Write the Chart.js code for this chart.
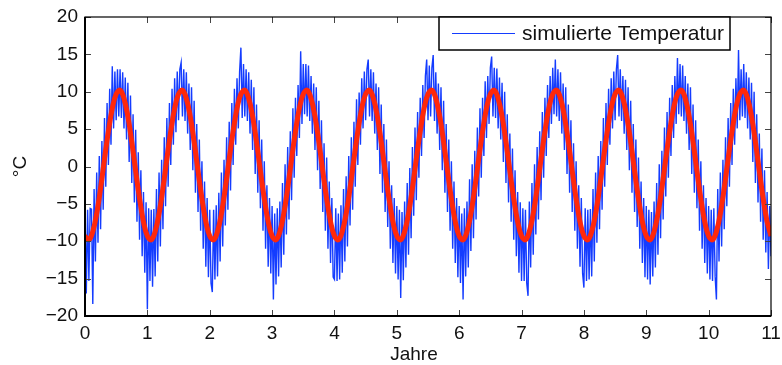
<!DOCTYPE html>
<html>
<head>
<meta charset="utf-8">
<script src="https://cdn.jsdelivr.net/npm/chart.js@4.4.1/dist/chart.umd.min.js"></script>
<style>
  html, body { margin: 0; padding: 0; background: #fff; }
  #wrap { width: 782px; height: 365px; }
</style>
</head>
<body>
<div id="wrap"><canvas id="myChart" width="782" height="365"></canvas></div>
<script>
// samples per year of each series
var simPerYear = 48;
var fitPerYear = 16;

// simulated temperature (blue), one row per year
var simTemp = [
  -5.8,-17.0,-5.8,-15.3,-5.6,-5.7,-18.4,-3.0,-12.7,-0.8,-10.2,1.4,-8.4,3.4,-5.8,6.5,-2.7,8.5,0.2,10.4,2.9,13.4,5.1,12.7,6.2,13.0,6.7,13.0,6.5,12.6,5.1,11.9,3.6,11.2,0.6,9.5,-2.2,7.0,-4.8,4.9,-7.4,1.9,-9.8,-0.5,-12.0,-3.4,-14.2,-4.8,
  -19.1,-5.6,-15.3,-5.8,-16.1,-5.7,-14.7,-3.0,-12.7,-0.8,-10.7,0.9,-8.4,3.9,-5.3,6.5,-2.7,8.5,0.2,10.4,2.9,11.8,4.6,12.7,6.2,13.0,13.9,6.7,13.0,6.1,12.6,4.4,11.1,2.2,10.6,-0.5,8.8,-3.5,5.7,-6.1,3.6,-8.6,0.7,-11.0,-2.0,-13.4,-4.2,-14.8,
  -5.8,-15.6,-16.8,-5.8,-15.1,-5.2,-14.7,-3.5,-12.7,-0.8,-10.7,0.9,-7.9,3.9,-5.8,6.0,-3.2,8.5,0.2,10.4,2.9,11.8,5.1,12.7,15.9,6.5,13.7,6.7,13.0,6.1,12.6,4.4,11.6,2.2,10.6,-1.0,8.3,-3.5,6.2,-5.6,3.6,-8.6,0.7,-11.0,-2.5,-13.4,-4.2,-14.3,
  -5.3,-17.8,-6.3,-15.8,-5.6,-14.7,-4.7,-13.5,-2.2,-11.8,0.3,-9.1,2.6,-7.1,4.7,-4.5,7.8,-1.5,9.2,1.4,10.9,3.8,15.4,5.7,13.7,7.0,13.7,6.7,13.5,6.1,12.1,4.4,11.1,2.2,10.6,-0.5,8.8,-3.0,6.2,-6.1,3.1,-8.6,1.2,-11.0,-2.0,-12.9,-4.2,-14.8,
  -15.1,-5.6,-15.3,-6.3,-15.1,-5.2,-14.2,-3.0,-12.7,-1.3,-10.7,1.4,-7.9,3.9,-5.8,6.0,-2.7,9.0,0.2,9.9,2.9,11.8,5.1,12.7,6.2,13.0,14.3,6.7,13.0,6.1,12.6,4.4,11.1,2.2,10.6,-1.0,8.3,-3.5,5.7,-6.1,3.6,-8.1,0.7,-11.0,-2.5,-12.9,-4.2,-14.3,
  -5.3,-15.1,-5.8,-17.6,-6.1,-15.2,-4.7,-13.5,-2.2,-11.8,-0.2,-9.6,2.6,-6.6,5.2,-4.5,7.3,-1.5,9.2,1.4,10.9,3.8,12.1,14.3,6.2,13.5,6.7,13.2,14.9,6.1,12.6,4.4,11.1,2.2,10.6,-0.5,8.8,-3.5,5.7,-6.1,3.6,-8.6,0.7,-11.0,-2.0,-12.9,-4.2,-14.8,
  -5.3,-15.6,-6.3,-17.8,-5.6,-14.7,-4.7,-13.5,-1.7,-11.3,0.3,-9.6,2.1,-7.1,5.2,-4.0,7.8,-1.5,9.2,1.4,11.4,3.8,12.1,5.7,13.2,14.7,6.7,13.2,6.5,13.1,5.1,11.9,3.6,11.2,0.6,10.0,-2.2,7.0,-4.8,4.4,-7.4,2.4,-9.8,-0.5,-12.0,-3.4,-14.2,-4.8,
  -15.3,-5.6,-15.3,-5.8,-15.6,-17.3,-4.7,-13.5,-2.2,-11.8,0.3,-9.1,2.6,-7.1,4.7,-4.5,7.3,-1.5,9.2,1.4,10.9,3.8,12.1,5.7,13.2,7.0,14.3,6.7,13.0,6.1,12.6,4.4,11.1,2.2,10.6,-1.0,8.3,-3.5,6.2,-6.1,3.1,-8.6,0.7,-11.0,-2.5,-13.4,-4.2,-14.3,
  -16.2,-5.6,-15.3,-5.8,-15.1,-5.7,-14.7,-3.0,-12.7,-0.8,-10.2,1.4,-8.4,3.4,-5.8,6.5,-2.7,8.5,0.2,10.4,2.9,11.8,5.1,12.7,6.2,13.0,14.9,6.7,13.0,6.1,12.1,4.4,11.6,2.2,10.6,-0.5,8.8,-3.5,5.7,-6.1,3.6,-8.1,1.2,-11.0,-2.0,-12.9,-4.2,-14.8,
  -5.3,-15.1,-5.8,-15.8,-6.1,-14.7,-4.7,-13.5,-2.2,-11.8,0.3,-9.6,2.1,-7.1,5.2,-4.0,7.3,-1.5,9.2,1.4,10.9,3.8,12.1,5.7,14.5,7.0,13.7,6.7,13.5,6.1,12.1,4.4,11.1,2.2,10.6,-1.0,8.3,-3.5,6.2,-5.6,3.6,-8.6,0.7,-11.0,-2.5,-12.9,-4.2,-14.3,
  -5.3,-15.1,-5.8,-15.3,-5.6,-14.7,-17.8,-3.0,-12.7,-0.8,-10.7,0.9,-8.4,3.9,-5.3,6.5,-2.7,8.5,0.2,10.4,2.9,11.8,5.1,15.6,6.2,13.0,6.7,13.7,6.5,12.6,5.1,11.9,3.6,11.2,0.6,10.0,-2.2,7.0,-4.8,4.4,-7.4,2.4,-9.8,-0.5,-11.5,-3.4,-13.7,-5.3,
  -12.0
];

// smooth seasonal curve (red), one row per year
var fitTemp = [
  -9.3,-9.8,-8.7,-6.3,-2.9,1.0,4.7,7.8,9.7,10.2,9.1,6.7,3.3,-0.6,-4.3,-7.4,
  -9.3,-9.8,-8.7,-6.3,-2.9,1.0,4.7,7.8,9.7,10.2,9.1,6.7,3.3,-0.6,-4.3,-7.4,
  -9.3,-9.8,-8.7,-6.3,-2.9,1.0,4.7,7.8,9.7,10.2,9.1,6.7,3.3,-0.6,-4.3,-7.4,
  -9.3,-9.8,-8.7,-6.3,-2.9,1.0,4.7,7.8,9.7,10.2,9.1,6.7,3.3,-0.6,-4.3,-7.4,
  -9.3,-9.8,-8.7,-6.3,-2.9,1.0,4.7,7.8,9.7,10.2,9.1,6.7,3.3,-0.6,-4.3,-7.4,
  -9.3,-9.8,-8.7,-6.3,-2.9,1.0,4.7,7.8,9.7,10.2,9.1,6.7,3.3,-0.6,-4.3,-7.4,
  -9.3,-9.8,-8.7,-6.3,-2.9,1.0,4.7,7.8,9.7,10.2,9.1,6.7,3.3,-0.6,-4.3,-7.4,
  -9.3,-9.8,-8.7,-6.3,-2.9,1.0,4.7,7.8,9.7,10.2,9.1,6.7,3.3,-0.6,-4.3,-7.4,
  -9.3,-9.8,-8.7,-6.3,-2.9,1.0,4.7,7.8,9.7,10.2,9.1,6.7,3.3,-0.6,-4.3,-7.4,
  -9.3,-9.8,-8.7,-6.3,-2.9,1.0,4.7,7.8,9.7,10.2,9.1,6.7,3.3,-0.6,-4.3,-7.4,
  -9.3,-9.8,-8.7,-6.3,-2.9,1.0,4.7,7.8,9.7,10.2,9.1,6.7,3.3,-0.6,-4.3,-7.4,
  -9.3
];

var xTicks = [0, 1, 2, 3, 4, 5, 6, 7, 8, 9, 10, 11];
var yTicks = [-20, -15, -10, -5, 0, 5, 10, 15, 20];

var blue = 'rgb(20,60,255)';
var red = 'rgb(255,40,10)';
var family = "'Liberation Sans', Arial, sans-serif";
var font = { family: family, size: 19 };

function minus(v) {
  return String(v).replace('-', '\u2212');
}

// box with inward ticks on all four sides, x label and the legend
var frame = {
  id: 'frame',
  afterDatasetsDraw: function(chart) {
    var ctx = chart.ctx, a = chart.chartArea;
    var x = chart.scales.x, y = chart.scales.y;
    ctx.save();
    ctx.strokeStyle = '#444';
    ctx.lineWidth = 1;
    ctx.beginPath();
    xTicks.forEach(function(t) {
      var px = Math.round(x.getPixelForValue(t)) + 0.5;
      ctx.moveTo(px, a.bottom); ctx.lineTo(px, a.bottom - 6);
      ctx.moveTo(px, a.top); ctx.lineTo(px, a.top + 6);
    });
    yTicks.forEach(function(t) {
      var py = Math.round(y.getPixelForValue(t)) + 0.5;
      ctx.moveTo(a.left, py); ctx.lineTo(a.left + 6, py);
      ctx.moveTo(a.right, py); ctx.lineTo(a.right - 6, py);
    });
    ctx.stroke();

    ctx.strokeStyle = '#000';
    ctx.lineWidth = 1.2;
    ctx.strokeRect(a.left, a.top, a.right - a.left, a.bottom - a.top);
    ctx.lineWidth = 2;
    ctx.beginPath();
    ctx.moveTo(a.left, a.top); ctx.lineTo(a.left, a.bottom); ctx.lineTo(a.right, a.bottom);
    ctx.stroke();

    // x axis label, sits a little left of centre as in the original
    ctx.fillStyle = '#111';
    ctx.font = font.size + 'px ' + family;
    ctx.textAlign = 'center';
    ctx.textBaseline = 'middle';
    ctx.fillText('Jahre', (a.left + a.right) / 2 - 14, a.bottom + 39);

    // legend
    var ds = chart.data.datasets[1];
    var bx = a.right - 332, by = a.top, bw = 291, bh = 33;
    ctx.fillStyle = '#fff';
    ctx.fillRect(bx, by, bw, bh);
    ctx.lineWidth = 1.5;
    ctx.strokeRect(bx, by, bw, bh);
    ctx.strokeStyle = ds.borderColor;
    ctx.lineWidth = 1;
    ctx.beginPath();
    ctx.moveTo(bx + 13, by + 16.5); ctx.lineTo(bx + 76, by + 16.5);
    ctx.stroke();
    ctx.fillStyle = '#111';
    ctx.font = '21px ' + family;
    ctx.textAlign = 'left';
    ctx.fillText(ds.label, bx + 83, by + 17);
    ctx.restore();
  }
};

var ctx = document.getElementById('myChart').getContext('2d');
var chart = new Chart(ctx, {
  type: 'line',
  data: {
    datasets: [
      {
        label: 'Jahresgang',
        data: fitTemp.map(function(v, i) { return { x: i / fitPerYear, y: v }; }),
        borderColor: red,
        borderWidth: 5,
        tension: 0.4,
        pointRadius: 0,
        order: 0
      },
      {
        label: 'simulierte Temperatur',
        data: simTemp.map(function(v, i) { return { x: i / simPerYear, y: v }; }),
        borderColor: blue,
        borderWidth: 1.4,
        tension: 0,
        pointRadius: 0,
        order: 1
      }
    ]
  },
  options: {
    responsive: false,
    animation: false,
    layout: { padding: { left: 0, right: 11, top: 17, bottom: 0 } },
    plugins: { legend: { display: false }, tooltip: { enabled: false } },
    scales: {
      x: {
        type: 'linear',
        min: 0, max: 11,
        afterBuildTicks: function(s) { s.ticks = xTicks.map(function(v) { return { value: v }; }); },
        afterFit: function(s) { s.height = 49; s.paddingLeft = 0; s.paddingRight = 0; },
        grid: { display: false, drawTicks: false },
        border: { display: false },
        ticks: { font: font, color: '#111', padding: 6, maxRotation: 0, callback: minus }
      },
      y: {
        type: 'linear',
        min: -20, max: 20,
        afterBuildTicks: function(s) { s.ticks = yTicks.map(function(v) { return { value: v }; }); },
        afterFit: function(s) { s.width = 85; s.paddingTop = 0; s.paddingBottom = 0; },
        grid: { display: false, drawTicks: false },
        border: { display: false },
        ticks: { font: font, color: '#111', padding: 7, callback: minus },
        title: { display: true, text: '°C', font: font, color: '#111', padding: { top: 9, bottom: 0 } }
      }
    }
  },
  plugins: [frame]
});
</script>
</body>
</html>
